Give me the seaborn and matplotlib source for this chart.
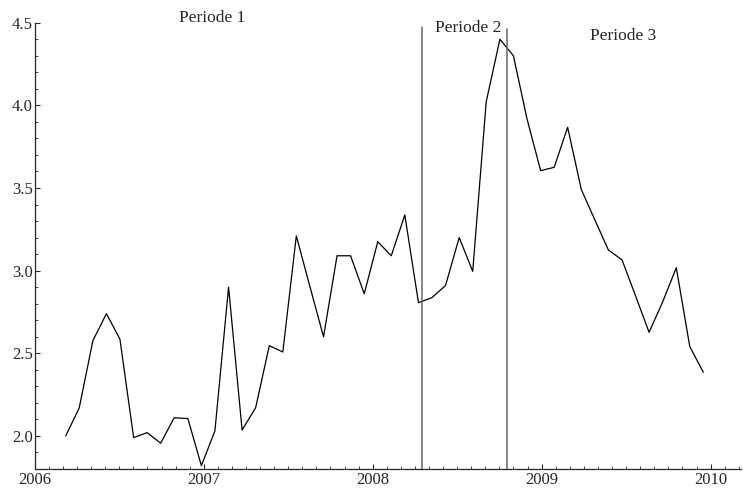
import numpy as np
import pandas as pd
import matplotlib
matplotlib.use("Agg")
import matplotlib.pyplot as plt
import seaborn as sns
from matplotlib.ticker import MultipleLocator, FixedLocator, FormatStrFormatter

# Observation dates (decimal years) and values
dates = [2006.183, 2006.263, 2006.344, 2006.424, 2006.504, 2006.585, 2006.665, 2006.745,
         2006.825, 2006.906, 2006.986, 2007.066, 2007.147, 2007.227, 2007.307, 2007.388,
         2007.468, 2007.548, 2007.628, 2007.709, 2007.789, 2007.869, 2007.950, 2008.030,
         2008.110, 2008.190, 2008.271, 2008.351, 2008.431, 2008.512, 2008.592, 2008.672,
         2008.753, 2008.833, 2008.913, 2008.994, 2009.074, 2009.154, 2009.235, 2009.315,
         2009.395, 2009.476, 2009.556, 2009.636, 2009.716, 2009.797, 2009.877, 2009.957]
values = [2.00, 2.17, 2.577, 2.74, 2.585, 1.99, 2.02, 1.956,
          2.11, 2.105, 1.82, 2.03, 2.90, 2.036, 2.17, 2.546,
          2.508, 3.21, 2.905, 2.60, 3.09, 3.09, 2.86, 3.175,
          3.09, 3.337, 2.806, 2.837, 2.91, 3.20, 2.996, 4.022,
          4.40, 4.30, 3.92, 3.605, 3.625, 3.867, 3.49, 3.307,
          3.125, 3.065, 2.847, 2.627, 2.81, 3.018, 2.54, 2.385]

# Period boundaries (x position, top of line)
boundary_x = [2008.291, 2008.794]
boundary_top = [4.476, 4.46]

period_labels = ["Periode 1", "Periode 2", "Periode 3"]
period_x = [2007.049, 2008.563, 2009.483]
period_y = [4.504, 4.446, 4.395]

year_ticks = [2006, 2007, 2008, 2009, 2010]
y_ticks = [2.0, 2.5, 3.0, 3.5, 4.0, 4.5]

sns.set_style("ticks")
plt.rcParams["font.family"] = ["Liberation Serif", "DejaVu Serif"]

df = pd.DataFrame({"date": dates, "value": values})

fig = plt.figure(figsize=(7.43, 4.91), dpi=100)
ax = fig.add_axes([34.8 / 743, 22 / 491, (741 - 34.8) / 743, (469 - 22.7) / 491])

sns.lineplot(data=df, x="date", y="value", ax=ax, color="black", linewidth=0.9)

for bx, top in zip(boundary_x, boundary_top):
    ax.plot([bx, bx], [1.8, top], color="0.4", linewidth=1.1, clip_on=False)

for lab, tx, ty in zip(period_labels, period_x, period_y):
    ax.text(tx, ty, lab, ha="center", va="baseline", fontsize=12.5, clip_on=False)

ax.set_xlim(2006, 2010.18)
ax.set_ylim(1.8, 4.5)
ax.set_xlabel("")
ax.set_ylabel("")

ax.xaxis.set_major_locator(FixedLocator(year_ticks))
ax.xaxis.set_minor_locator(MultipleLocator(1 / 12))
ax.xaxis.set_major_formatter(FormatStrFormatter("%d"))
ax.yaxis.set_major_locator(FixedLocator(y_ticks))
ax.yaxis.set_minor_locator(MultipleLocator(0.1))
ax.yaxis.set_major_formatter(FormatStrFormatter("%.1f"))

ax.tick_params(which="major", direction="in", length=3.8, width=0.8, labelsize=12, pad=2.5)
ax.tick_params(which="minor", direction="in", length=2.0, width=0.6)
ax.tick_params(axis="y", which="major", pad=1.5)

for side in ("top", "right"):
    ax.spines[side].set_visible(False)
for side in ("left", "bottom"):
    ax.spines[side].set_linewidth(0.9)

fig.savefig("out.png", dpi=100)
